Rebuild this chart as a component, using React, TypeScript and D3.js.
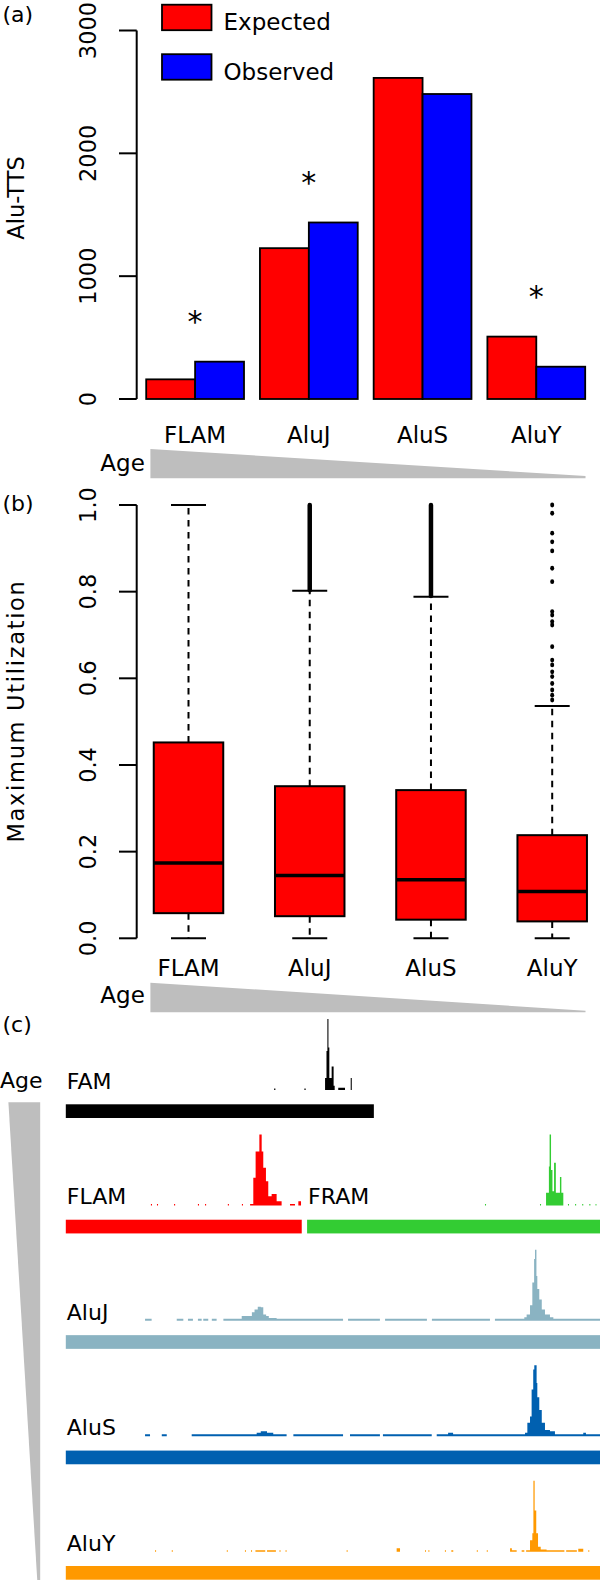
import React from "react";
import * as d3 from "d3";

// panel (a): Alu-TTS counts
const categories = ["FLAM", "AluJ", "AluS", "AluY"];
const series = ["Expected", "Observed"];
const expected = [160, 1228, 2614, 508];
const observed = [304, 1437, 2483, 263];
const significant = [true, true, false, true];
const countTicks = [0, 1000, 2000, 3000];

// panel (b): maximum utilization boxplots
const boxQ1 = [0.058, 0.051, 0.043, 0.039];
const boxMedian = [0.174, 0.145, 0.135, 0.108];
const boxQ3 = [0.452, 0.351, 0.342, 0.238];
const whiskerLow = [0, 0, 0, 0];
const whiskerHigh = [1.0, 0.802, 0.788, 0.536];
// outliers so dense they merge into a solid run
const denseOutliers: ([number, number] | null)[] = [null, [0.803, 1.0], [0.79, 1.0], null];
const aluYOutliers = [
  1.0, 0.981, 0.935, 0.915, 0.894, 0.854, 0.823, 0.754, 0.746, 0.731, 0.723,
  0.673, 0.642, 0.631, 0.615, 0.604, 0.588, 0.573, 0.561, 0.55,
];
const utilTicks = [0, 0.2, 0.4, 0.6, 0.8, 1.0];

// panel (c): aggregated TTS profiles along the element (bp, relative height)
const trackRows = ["FAM", "FLAM", "AluJ", "AluS", "AluY"];
const trackElements = [
  { row: "FAM", name: "FAM", start: 0, end: 173, color: "#000000" },
  { row: "FLAM", name: "FLAM", start: 0, end: 132.5, color: "#ff0000" },
  { row: "FLAM", name: "FRAM", start: 135.5, end: 300, color: "#33cc33" },
  { row: "AluJ", name: "AluJ", start: 0, end: 300, color: "#8ab3c2" },
  { row: "AluS", name: "AluS", start: 0, end: 300, color: "#0060b0" },
  { row: "AluY", name: "AluY", start: 0, end: 300, color: "#ff9900" },
];
const famProfile = [
  [117, 0.02], [117.7, 0], [134, 0.02], [134.7, 0],
  [145.6, 0.17], [146.4, 0.55], [146.9, 1], [147.5, 0.6], [148, 0.17], [149.3, 0.33],
  [150.4, 0.06], [151, 0], [153, 0.03], [156.8, 0], [160, 0.17], [160.6, 0],
];
const flamProfile = [
  [47.8, 0.02], [48.4, 0], [51.2, 0.02], [51.8, 0], [60.8, 0.02], [61.4, 0],
  [74.2, 0.02], [74.8, 0], [78.2, 0.02], [78.8, 0], [91, 0.02], [91.6, 0],
  [98.9, 0.02], [99.5, 0], [103.5, 0.02], [105.3, 0.39], [106.6, 0.76], [108.7, 1],
  [110, 0.76], [110.9, 0.53], [112.4, 0.34], [113.7, 0.13], [115.6, 0.16],
  [118.4, 0.06], [121.2, 0], [125.9, 0.02], [128.7, 0], [130.6, 0.06], [132.1, 0],
];
const framProfile = [
  [235.4, 0.02], [236, 0], [266.3, 0.02], [266.9, 0], [269.7, 0.18], [271.3, 0.55],
  [271.7, 1], [272.5, 0.5], [273.3, 0.2], [274.2, 0.6], [275.2, 0.18], [277.5, 0.4],
  [278.3, 0.18], [279.4, 0], [282, 0.02], [282.6, 0], [286, 0.02], [286.6, 0],
  [290, 0.02], [290.6, 0], [294, 0.02], [294.6, 0], [297.5, 0.02], [298, 0],
];
const alujProfile = [
  [44.5, 0.03], [48.2, 0], [62.3, 0.03], [66, 0], [68.6, 0.03], [71.4, 0],
  [74.2, 0.03], [76.3, 0], [77.2, 0.03], [80, 0], [82, 0.03], [84.7, 0], [88.5, 0.03],
  [98.8, 0.07], [104.5, 0.12], [106, 0.16], [107.8, 0.2], [109.5, 0.19], [110.9, 0.09],
  [112.5, 0.07], [114, 0.04], [118.4, 0.03], [155.7, 0], [158.5, 0.03], [176.4, 0],
  [179.3, 0.03], [202.8, 0], [205.6, 0.03], [238.2, 0], [241, 0.03], [257.5, 0.05],
  [258.8, 0.09], [260.7, 0.22], [262, 0.54], [263, 0.87], [263.5, 1], [264.3, 0.63],
  [264.8, 0.45], [265.9, 0.3], [267.3, 0.16], [269.1, 0.09], [271.9, 0.05],
  [273.8, 0.03], [300, 0],
];
const alusProfile = [
  [44.5, 0.03], [47.3, 0], [53.9, 0.03], [56.7, 0], [70.7, 0.03], [107.2, 0.05],
  [109.5, 0.07], [113, 0.05], [116.5, 0.03], [124, 0], [127.8, 0.03], [155.7, 0],
  [159.6, 0.03], [176.4, 0], [178.1, 0.03], [205.5, 0], [208.3, 0.03], [214.7, 0.05],
  [217.5, 0.03], [257.9, 0.05], [259.2, 0.19], [260.7, 0.28], [261.6, 0.66],
  [262.5, 0.94], [263.1, 1], [264.4, 0.75], [264.8, 0.55], [265.9, 0.37],
  [267.3, 0.19], [269.1, 0.09], [271.9, 0.07], [274.7, 0.03], [290.6, 0.05],
  [292.1, 0.03], [300, 0],
];
const aluyProfile = [
  [50.1, 0.02], [50.7, 0], [59.5, 0.02], [60.1, 0], [90.4, 0.02], [91, 0],
  [100.6, 0.02], [101.2, 0], [104, 0.02], [104.6, 0], [106.5, 0.02], [112, 0],
  [113, 0.02], [118, 0], [120, 0.02], [120.6, 0], [123.4, 0.02], [124, 0],
  [157.7, 0.02], [158.3, 0], [185.8, 0.05], [187.7, 0], [201.7, 0.02], [202.3, 0],
  [203.6, 0.02], [204.2, 0], [212.9, 0.02], [213.5, 0], [216.5, 0.02], [217.6, 0],
  [230.8, 0.02], [231.4, 0], [236.4, 0.02], [237, 0], [249.5, 0.05], [250.5, 0.02],
  [253.2, 0], [256, 0.02], [257.5, 0], [258.5, 0.02], [260.7, 0.16], [262, 0.26],
  [262.6, 1], [263.3, 0.58], [264.2, 0.26], [265.2, 0.07], [266.7, 0.03], [270, 0.02],
  [280, 0], [281, 0.02], [287, 0], [287.8, 0.04], [290.6, 0], [293.4, 0.02], [294, 0],
];
const profiles = [
  { row: "FAM", color: "#000000", data: famProfile },
  { row: "FLAM", color: "#ff0000", data: flamProfile },
  { row: "FLAM", color: "#33cc33", data: framProfile },
  { row: "AluJ", color: "#8ab3c2", data: alujProfile },
  { row: "AluS", color: "#0060b0", data: alusProfile },
  { row: "AluY", color: "#ff9900", data: aluyProfile },
];

const FONT = "DejaVu Sans";
const AGE_GREY = "#bebebe";

export default function App() {
  // ---- panel a scales
  const yA = d3.scaleLinear().domain([0, 3000]).range([399, 30.5]);
  const xA = d3.scaleBand().domain(categories).range([146.2, 585.2]).paddingInner(0.14);
  const xSub = d3.scaleBand().domain(series).range([0, xA.bandwidth()]);
  const barFill: Record<string, string> = { Expected: "#ff0000", Observed: "#0000ff" };

  // ---- panel b scales
  const yB = d3.scaleLinear().domain([0, 1]).range([938.3, 505]);
  const xB = d3.scalePoint().domain(categories).range([188.5, 552.2]);
  const boxW = 69.5;
  const capW = 35;

  // ---- panel c scales
  const tx = d3.scaleLinear().domain([0, 300]).range([65.8, 600]);
  const rowY = d3.scalePoint().domain(trackRows).range([1090, 1551.7]);
  const peakH = 71;
  const area = (base: number) =>
    d3
      .area<number[]>()
      .x((d) => tx(d[0]))
      .y0(base)
      .y1((d) => base - d[1] * peakH)
      .curve(d3.curveStepAfter);

  return (
    <svg
      width={600}
      height={1580}
      style={{ position: "absolute", left: 0, top: 0, fontFamily: FONT }}
    >
      <rect width={600} height={1580} fill="#fff" />

      {/* ===== (a) ===== */}
      <text x={2.5} y={21.7} fontSize={22}>(a)</text>
      <text transform="translate(23.5,198) rotate(-90)" textAnchor="middle" fontSize={22.5}>
        Alu-TTS
      </text>
      <line x1={136.7} x2={136.7} y1={yA(3000)} y2={yA(0)} stroke="#000" strokeWidth={2} />
      {countTicks.map((t) => (
        <g key={t}>
          <line x1={119} x2={136.7} y1={yA(t)} y2={yA(t)} stroke="#000" strokeWidth={2} />
          <text
            transform={`translate(96,${yA(t)}) rotate(-90)`}
            textAnchor="middle"
            fontSize={22.5}
          >
            {t}
          </text>
        </g>
      ))}
      {categories.map((c, i) =>
        series.map((s) => {
          const v = s === "Expected" ? expected[i] : observed[i];
          return (
            <rect
              key={c + s}
              x={xA(c)! + xSub(s)!}
              y={yA(v)}
              width={xSub.bandwidth()}
              height={yA(0) - yA(v)}
              fill={barFill[s]}
              stroke="#000"
              strokeWidth={1.8}
            />
          );
        })
      )}
      {categories.map((c, i) =>
        significant[i] ? (
          <text
            key={c}
            x={xA(c)! + xA.bandwidth() / 2}
            y={yA(Math.max(expected[i], observed[i]) + 378) + 16.7}
            textAnchor="middle"
            fontSize={30}
          >
            *
          </text>
        ) : null
      )}
      {categories.map((c) => (
        <text key={c} x={xA(c)! + xA.bandwidth() / 2} y={442.7} textAnchor="middle" fontSize={23}>
          {c}
        </text>
      ))}
      {series.map((s, i) => (
        <g key={s}>
          <rect
            x={162}
            y={4.7 + i * 49.5}
            width={49.5}
            height={25.5}
            fill={barFill[s]}
            stroke="#000"
            strokeWidth={1.8}
          />
          <text x={223.5} y={29.5 + i * 50} fontSize={23}>
            {s}
          </text>
        </g>
      ))}
      <polygon points="150.4,449 150.4,478.3 585.5,478.3 585.5,476" fill={AGE_GREY} />
      <text x={100.3} y={470.5} fontSize={23}>Age</text>

      {/* ===== (b) ===== */}
      <text x={2.5} y={511} fontSize={22}>(b)</text>
      <text
        transform="translate(23.5,711) rotate(-90)"
        textAnchor="middle"
        fontSize={22.5}
        letterSpacing={1.7}
      >
        Maximum Utilization
      </text>
      <line x1={136.7} x2={136.7} y1={yB(1)} y2={yB(0)} stroke="#000" strokeWidth={2} />
      {utilTicks.map((t) => (
        <g key={t}>
          <line x1={119} x2={136.7} y1={yB(t)} y2={yB(t)} stroke="#000" strokeWidth={2} />
          <text
            transform={`translate(96,${yB(t)}) rotate(-90)`}
            textAnchor="middle"
            fontSize={22.5}
          >
            {t.toFixed(1)}
          </text>
        </g>
      ))}
      {categories.map((c, i) => {
        const cx = xB(c)!;
        return (
          <g key={c}>
            <line x1={cx} x2={cx} y1={yB(boxQ3[i])} y2={yB(whiskerHigh[i])} stroke="#000" strokeWidth={2} strokeDasharray="6.5,5.5" />
            <line x1={cx} x2={cx} y1={yB(boxQ1[i])} y2={yB(whiskerLow[i])} stroke="#000" strokeWidth={2} strokeDasharray="6.5,5.5" />
            <line x1={cx - capW / 2} x2={cx + capW / 2} y1={yB(whiskerHigh[i])} y2={yB(whiskerHigh[i])} stroke="#000" strokeWidth={2} />
            <line x1={cx - capW / 2} x2={cx + capW / 2} y1={yB(whiskerLow[i])} y2={yB(whiskerLow[i])} stroke="#000" strokeWidth={2} />
            <rect
              x={cx - boxW / 2}
              y={yB(boxQ3[i])}
              width={boxW}
              height={yB(boxQ1[i]) - yB(boxQ3[i])}
              fill="#ff0000"
              stroke="#000"
              strokeWidth={2}
            />
            <line x1={cx - boxW / 2} x2={cx + boxW / 2} y1={yB(boxMedian[i])} y2={yB(boxMedian[i])} stroke="#000" strokeWidth={3.5} />
            {denseOutliers[i] && (
              <line
                x1={cx}
                x2={cx}
                y1={yB(denseOutliers[i]![0])}
                y2={yB(denseOutliers[i]![1])}
                stroke="#000"
                strokeWidth={4.5}
                strokeLinecap="round"
              />
            )}
            <text x={cx} y={976} textAnchor="middle" fontSize={23}>
              {c}
            </text>
          </g>
        );
      })}
      {aluYOutliers.map((v, k) => (
        <ellipse key={k} cx={xB("AluY")!} cy={yB(v)} rx={2} ry={2.4} fill="#000" />
      ))}
      <polygon points="150.4,982.7 150.4,1012.3 585.5,1012.3 585.5,1010.7" fill={AGE_GREY} />
      <text x={100.3} y={1003.3} fontSize={23}>Age</text>

      {/* ===== (c) ===== */}
      <text x={2.5} y={1032} fontSize={22}>(c)</text>
      <text x={0} y={1088} fontSize={22}>Age</text>
      <polygon points="8.4,1102.3 40.2,1102.3 40.2,1629" fill={AGE_GREY} />
      {profiles.map((p, k) => (
        <path key={k} d={area(rowY(p.row)!)(p.data as number[][]) || ""} fill={p.color} />
      ))}
      {trackElements.map((e) => {
        const base = rowY(e.row)!;
        return (
          <g key={e.name}>
            <rect x={tx(e.start)} y={base + 14.3} width={tx(e.end) - tx(e.start)} height={13.7} fill={e.color} />
            <text x={tx(e.start) + 1} y={base - 1} fontSize={22}>
              {e.name}
            </text>
          </g>
        );
      })}
    </svg>
  );
}
